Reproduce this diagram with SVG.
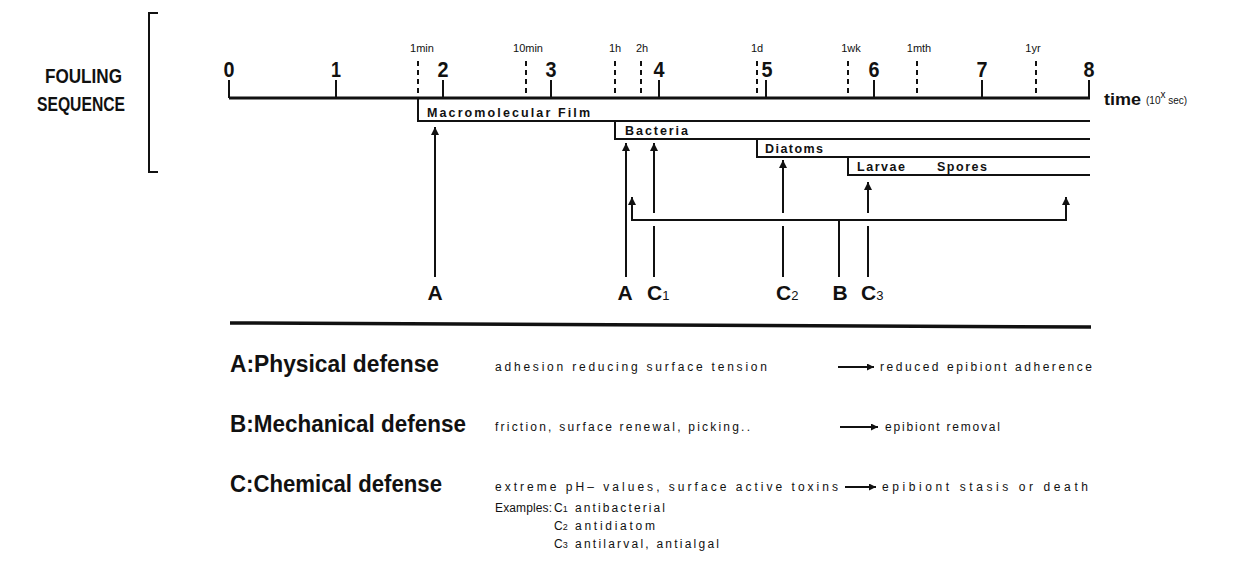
<svg xmlns="http://www.w3.org/2000/svg" width="1235" height="564" viewBox="0 0 1235 564">
<style>
text{font-family:"Liberation Sans","Arial",sans-serif;fill:#111}
.b{font-weight:bold}
.dig{font-size:22px;font-weight:bold;text-anchor:middle}
.tl{font-size:11px;text-anchor:middle}
.bar{font-size:12.5px;font-weight:bold}
.lab{font-size:21px;font-weight:bold}
.sub{font-size:13px;font-weight:normal}
.hd{font-size:23px;font-weight:bold}
.sm{font-size:12px}
.ln{stroke:#111;fill:none;stroke-width:2}
.dash{stroke:#111;stroke-width:2;stroke-dasharray:5 4}
</style>
<defs>
<marker id="ar" viewBox="0 0 10 10" refX="10" refY="5" markerWidth="9" markerHeight="8" markerUnits="userSpaceOnUse" orient="auto-start-reverse">
<path d="M0,0 L10,5 L0,10 Z" fill="#111"/>
</marker>
<marker id="as" viewBox="0 0 10 10" refX="10" refY="5" markerWidth="9" markerHeight="7" markerUnits="userSpaceOnUse" orient="auto">
<path d="M0,0 L10,5 L0,10 Z" fill="#111"/>
</marker>
</defs>

<g id="title">
<text class="b" x="45" y="83" font-size="20" textLength="77" lengthAdjust="spacingAndGlyphs">FOULING</text>
<text class="b" x="37" y="111" font-size="20" textLength="88" lengthAdjust="spacingAndGlyphs">SEQUENCE</text>
<path class="ln" d="M158,13 H149 V172 H158" stroke-width="2.5"/>
</g>

<g id="axis">
<path d="M229,98 H1090" stroke="#111" stroke-width="3"/>
<path class="ln" d="M229,80 V98 M336,80 V98 M443,80 V98 M551,80 V98 M659,80 V98 M766,80 V98 M874,80 V98 M982,80 V98 M1089,80 V98"/>
<text class="dig" x="229" y="77" textLength="11" lengthAdjust="spacingAndGlyphs">0</text>
<text class="dig" x="336" y="77" textLength="10" lengthAdjust="spacingAndGlyphs">1</text>
<text class="dig" x="443" y="77" textLength="11" lengthAdjust="spacingAndGlyphs">2</text>
<text class="dig" x="551" y="77" textLength="11" lengthAdjust="spacingAndGlyphs">3</text>
<text class="dig" x="659" y="77" textLength="11" lengthAdjust="spacingAndGlyphs">4</text>
<text class="dig" x="767" y="77" textLength="11" lengthAdjust="spacingAndGlyphs">5</text>
<text class="dig" x="874" y="77" textLength="11" lengthAdjust="spacingAndGlyphs">6</text>
<text class="dig" x="982" y="77" textLength="11" lengthAdjust="spacingAndGlyphs">7</text>
<text class="dig" x="1089" y="77" textLength="11" lengthAdjust="spacingAndGlyphs">8</text>
<path class="dash" d="M418,61 V103 M526,61 V98 M615,61 V98 M641,61 V98 M757,61 V98 M848,61 V98 M917,61 V98 M1036,61 V98"/>
<text class="tl" x="422" y="52">1min</text>
<text class="tl" x="528" y="52">10min</text>
<text class="tl" x="615" y="52">1h</text>
<text class="tl" x="642" y="52">2h</text>
<text class="tl" x="757" y="52">1d</text>
<text class="tl" x="851" y="52">1wk</text>
<text class="tl" x="919" y="52">1mth</text>
<text class="tl" x="1033" y="52">1yr</text>
<text class="b" x="1104" y="105" font-size="16" textLength="37" lengthAdjust="spacingAndGlyphs">time</text>
<text x="1146" y="104" font-size="10">(10<tspan dy="-6" font-size="10">x</tspan><tspan dy="6"> sec)</tspan></text>
</g>

<g id="macromolecular-film">
<path class="ln" d="M418,100 V121 H1090"/>
<text class="bar" x="427" y="117" textLength="163" lengthAdjust="spacing">Macromolecular Film</text>
</g>
<g id="bacteria">
<path class="ln" d="M615,121 V139 H1090"/>
<text class="bar" x="625" y="135" textLength="63" lengthAdjust="spacing">Bacteria</text>
</g>
<g id="diatoms">
<path class="ln" d="M757,139 V157 H1090"/>
<text class="bar" x="765" y="153" textLength="58" lengthAdjust="spacing">Diatoms</text>
</g>
<g id="larvae-spores">
<path class="ln" d="M848,157 V175 H1090"/>
<text class="bar" x="857" y="171" textLength="48" lengthAdjust="spacing">Larvae</text>
<text class="bar" x="937" y="171" textLength="50" lengthAdjust="spacing">Spores</text>
</g>

<g id="connectors">
<path class="ln" d="M435,277 V127" marker-end="url(#ar)"/>
<path class="ln" d="M626,277 V143" marker-end="url(#ar)"/>
<path class="ln" d="M654,213 V143" marker-end="url(#ar)"/>
<path class="ln" d="M654,226 V277"/>
<path class="ln" d="M783,213 V160" marker-end="url(#ar)"/>
<path class="ln" d="M783,226 V277"/>
<path class="ln" d="M868,213 V182" marker-end="url(#ar)"/>
<path class="ln" d="M868,226 V277"/>
<path class="ln" d="M839,277 V220"/>
<path class="ln" d="M632,197 V220 H1066 V197" marker-start="url(#ar)" marker-end="url(#ar)"/>
</g>

<g id="labels">
<text class="lab" x="435" y="300" text-anchor="middle">A</text>
<text class="lab" x="625" y="300" text-anchor="middle">A</text>
<text class="lab" x="647" y="300">C<tspan class="sub">1</tspan></text>
<text class="lab" x="776" y="300">C<tspan class="sub">2</tspan></text>
<text class="lab" x="840" y="300" text-anchor="middle">B</text>
<text class="lab" x="861" y="300">C<tspan class="sub">3</tspan></text>
</g>

<g id="divider">
<path d="M230,323 L1091,327" stroke="#111" stroke-width="3.5"/>
</g>

<g id="legend-a">
<text class="hd" x="230" y="372" textLength="209" lengthAdjust="spacingAndGlyphs">A:Physical defense</text>
<text class="sm" x="495" y="371" textLength="272" lengthAdjust="spacing">adhesion reducing surface tension</text>
<path class="ln" d="M838,367 H874" stroke-width="1.5" marker-end="url(#as)"/>
<text class="sm" x="880" y="371" textLength="212" lengthAdjust="spacing">reduced epibiont adherence</text>
</g>
<g id="legend-b">
<text class="hd" x="230" y="432" textLength="236" lengthAdjust="spacingAndGlyphs">B:Mechanical defense</text>
<text class="sm" x="495" y="431" textLength="255" lengthAdjust="spacing">friction, surface renewal, picking..</text>
<path class="ln" d="M840,427 H878" stroke-width="1.5" marker-end="url(#as)"/>
<text class="sm" x="885" y="431" textLength="115" lengthAdjust="spacing">epibiont removal</text>
</g>
<g id="legend-c">
<text class="hd" x="230" y="492" textLength="212" lengthAdjust="spacingAndGlyphs">C:Chemical defense</text>
<text class="sm" x="495" y="491" textLength="343" lengthAdjust="spacing">extreme pH– values, surface active toxins</text>
<path class="ln" d="M845,487 H876" stroke-width="1.5" marker-end="url(#as)"/>
<text class="sm" x="882" y="491" textLength="206" lengthAdjust="spacing">epibiont stasis or death</text>
<text class="sm" x="495" y="512" textLength="57" lengthAdjust="spacing">Examples:</text>
<text class="sm" x="554" y="512">C<tspan font-size="9">1</tspan></text>
<text class="sm" x="575" y="512" textLength="90" lengthAdjust="spacing">antibacterial</text>
<text class="sm" x="554" y="530">C<tspan font-size="9">2</tspan></text>
<text class="sm" x="575" y="530" textLength="80" lengthAdjust="spacing">antidiatom</text>
<text class="sm" x="554" y="548">C<tspan font-size="9">3</tspan></text>
<text class="sm" x="575" y="548" textLength="144" lengthAdjust="spacing">antilarval, antialgal</text>
</g>
</svg>
